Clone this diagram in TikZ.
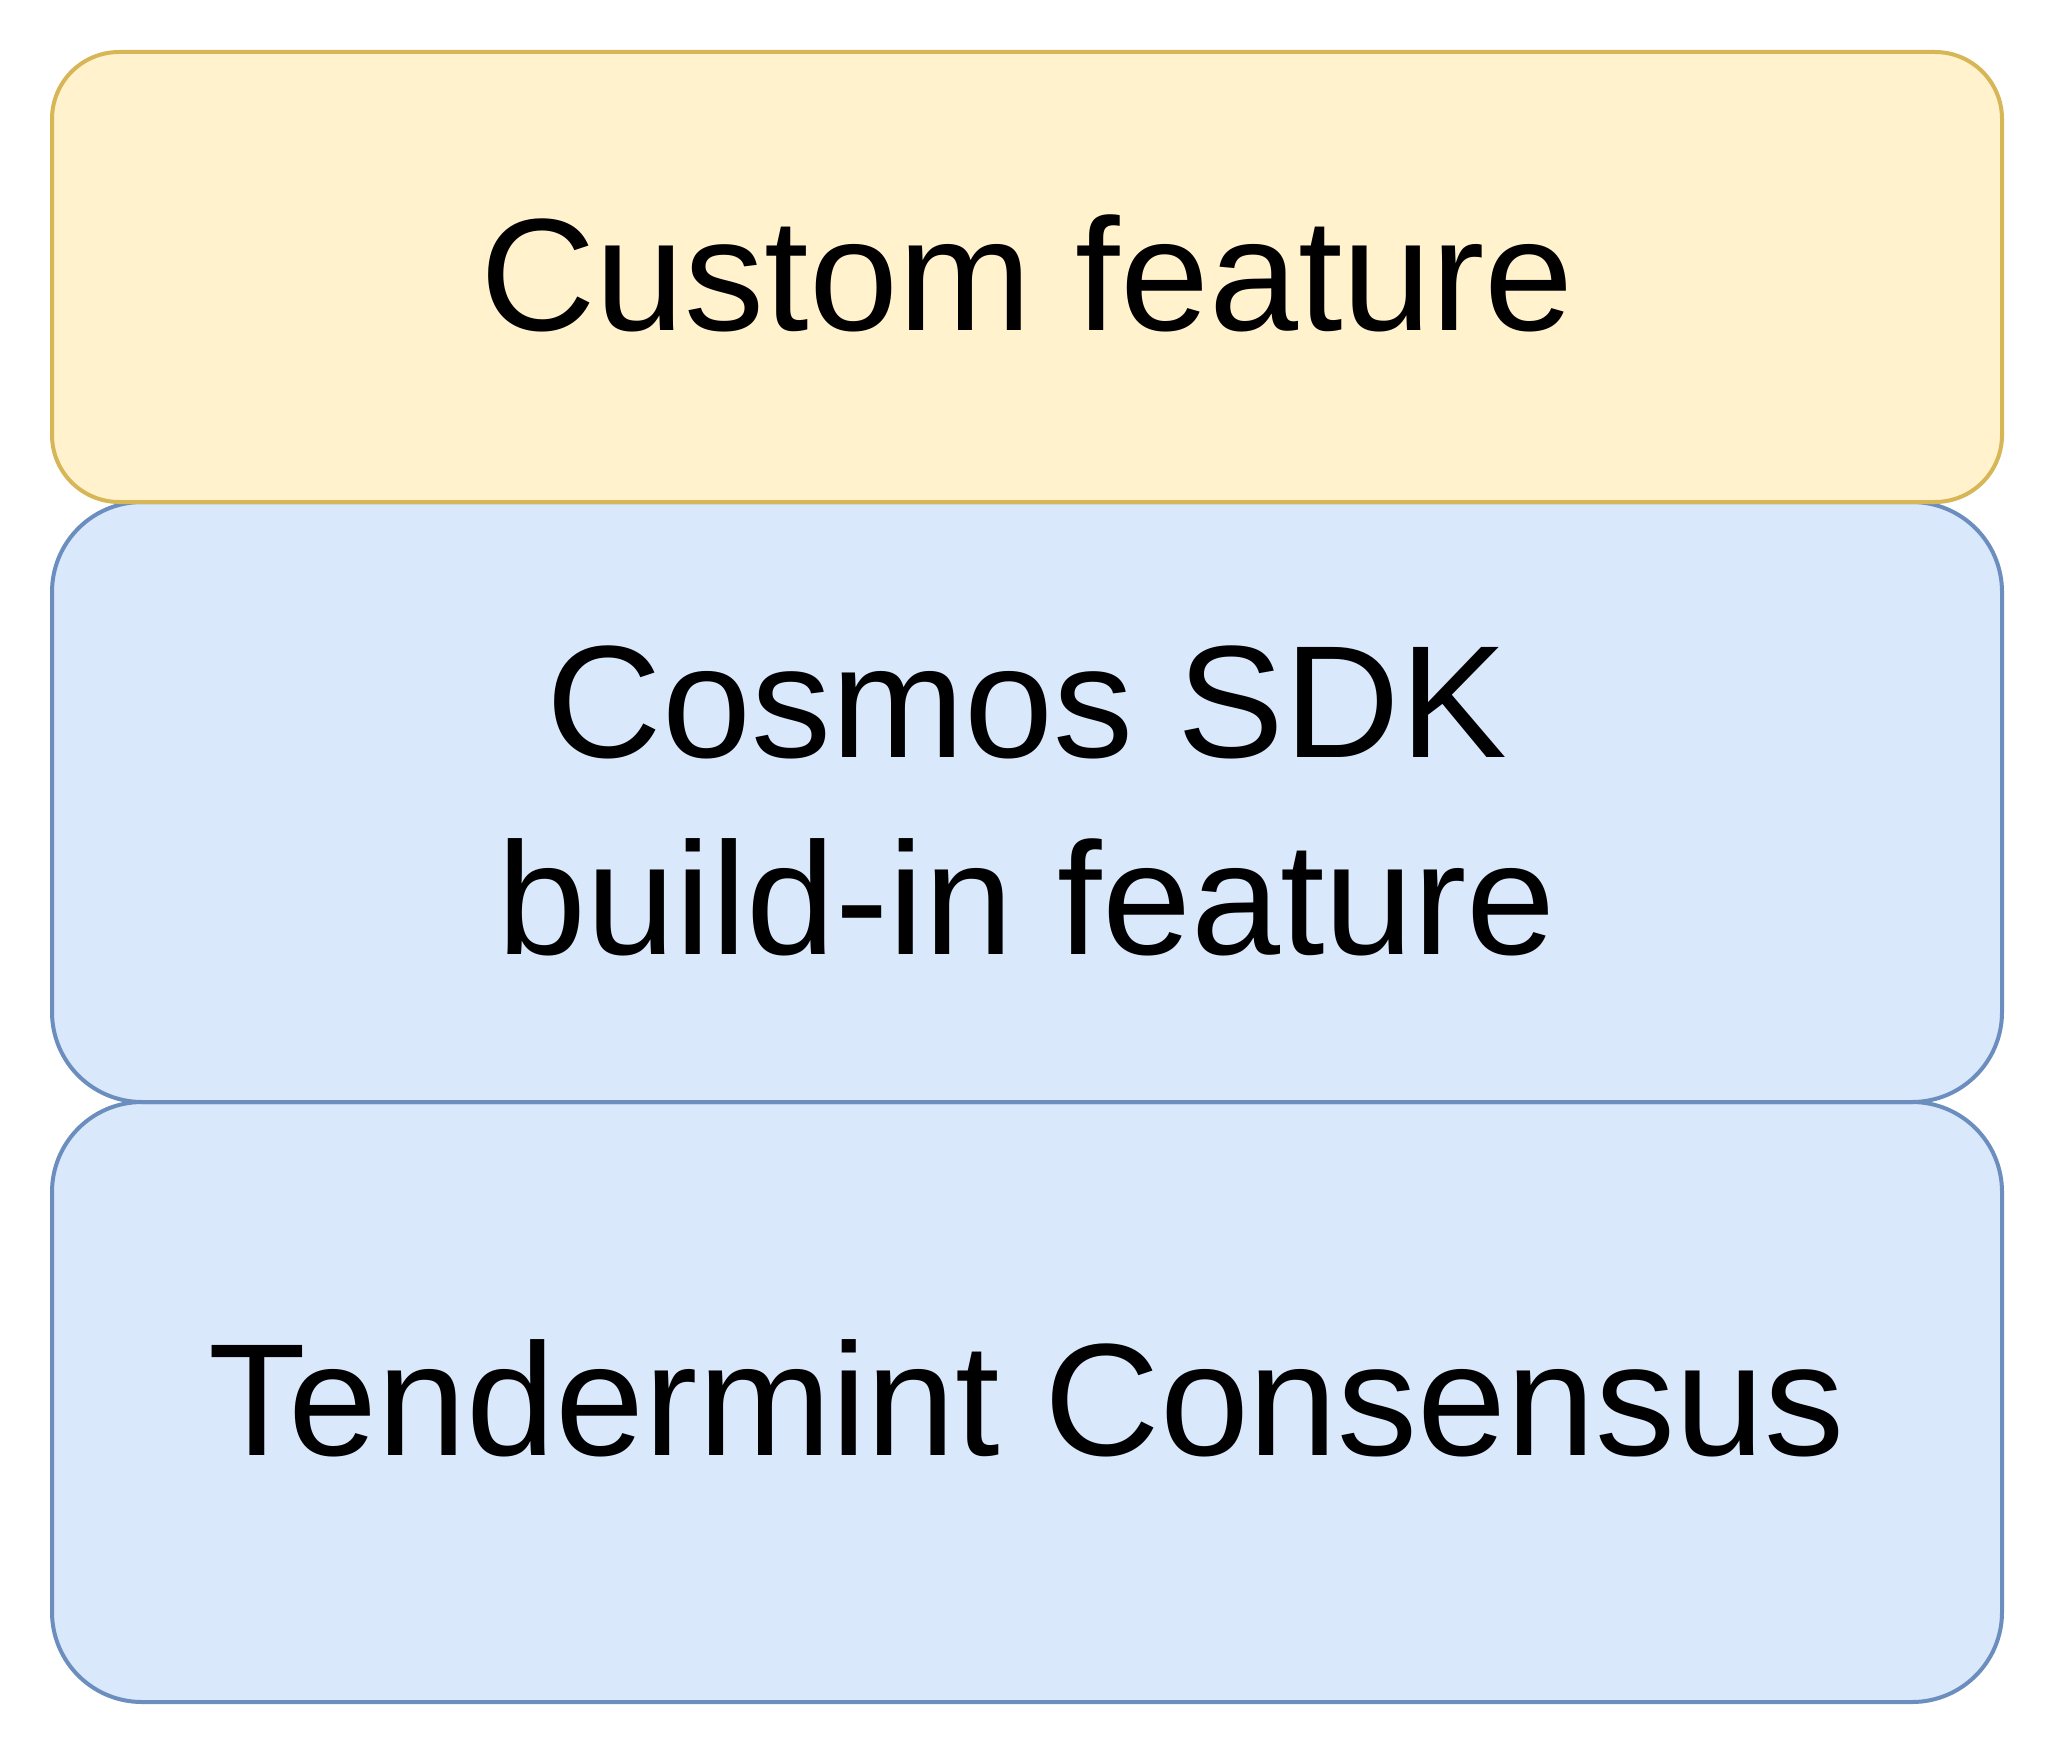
\documentclass[tikz,border=0pt]{standalone}
\usepackage{fontspec}
\setmainfont{Liberation Sans}
\definecolor{yfill}{HTML}{FFF2CC}
\definecolor{ydraw}{HTML}{D6B656}
\definecolor{bfill}{HTML}{DAE8FC}
\definecolor{bdraw}{HTML}{6C8EBF}
\begin{document}
\begin{tikzpicture}[x=0.5pt,y=-0.5pt,
  layer/.style={rectangle,line width=2pt,inner sep=0pt,minimum width=975pt,
    font=\fontsize{80pt}{98.5pt}\selectfont,align=center,text=black},
  yellowbox/.style={layer,fill=yfill,draw=ydraw,minimum height=225pt,rounded corners=33.5pt},
  bluebox/.style={layer,fill=bfill,draw=bdraw,minimum height=300pt,rounded corners=45pt},
  label/.style={font=\fontsize{80pt}{98.5pt}\selectfont,align=center,text=black,inner sep=0pt}]
\useasboundingbox (0,0) rectangle (2055,1755);
\node[bluebox] (tm) at (1027,1402) {};
\node[bluebox] (sdk) at (1027,802) {};
\node[yellowbox] (cf) at (1027,277) {};
\node[label] (tmtext) at ([yshift=2pt]tm.center) {Tendermint Consensus};
\node[label] (sdktext) at ([yshift=0.5pt]sdk.center) {Cosmos SDK\\build-in feature};
\node[label] (cftext) at ([yshift=2pt]cf.center) {Custom feature};
\end{tikzpicture}
\end{document}
